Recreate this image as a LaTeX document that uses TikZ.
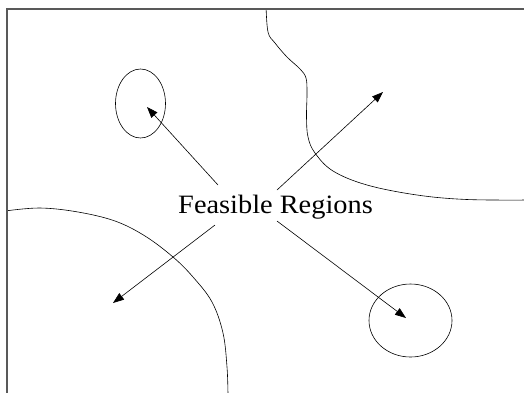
\documentclass[tikz,border=0pt]{standalone}
\usepackage{fontspec}
\setmainfont{Liberation Serif}
\usetikzlibrary{arrows.meta}
\begin{document}
\begin{tikzpicture}[x=1pt,y=-1pt,
  frameline/.style={draw=black!65,line width=1.4pt},
  boundary/.style={draw=black,line width=0.6pt},
  pointer/.style={draw=black,line width=0.6pt,-{Triangle[length=11pt,width=8pt]}},
  label/.style={font=\fontsize{26.5}{30}\selectfont,inner sep=0pt,xscale=1.07}]
\useasboundingbox (0,0) rectangle (524,392);
\begin{scope}
\clip (7,9) rectangle (524,392);
% top-right boundary
\draw[boundary] plot[smooth,tension=0.6] coordinates {(266,5) (268,32) (275,43) (287,57) (300,69) (306,78) (307,93) (306.5,117) (308,137) (315,153) (333,171) (367,185) (417,195) (467,199.5) (530,200)};
% bottom-left boundary
\draw[boundary] plot[smooth,tension=0.6] coordinates {(5,211) (40,208) (78,212) (115,221) (145,236) (173,257) (193,277) (212,302) (223,333) (227,367) (228,395)};
\end{scope}
\draw[frameline] (7,400) -- (7,9) -- (530,9);
% small regions
\draw[boundary] (140.5,103.5) ellipse [x radius=25, y radius=34.5];
\draw[boundary] (410.5,320.5) ellipse [x radius=41.5, y radius=36.5];
% label
\node[label,anchor=base] (lbl) at (275.5,213.5) {Feasible Regions};
\coordinate (s1) at (218,185);
\coordinate (s2) at (277,190);
\coordinate (s3) at (215,225);
\coordinate (s4) at (277,221);
\coordinate (e1) at (147,107);
\coordinate (e2) at (383,92);
\coordinate (e3) at (113,303);
\coordinate (e4) at (406,318);
\draw[pointer] (s1) -- (e1);
\draw[pointer] (s2) -- (e2);
\draw[pointer] (s3) -- (e3);
\draw[pointer] (s4) -- (e4);
\end{tikzpicture}
\end{document}
